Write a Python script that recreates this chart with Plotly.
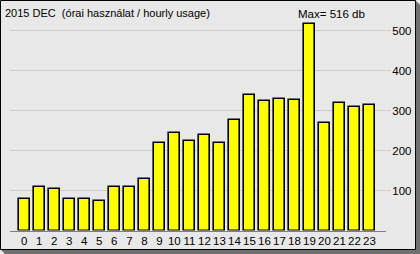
import plotly.graph_objects as go

hours = list(range(24))
hour_labels = [str(h) for h in hours]
usage = [78, 108, 105, 78, 78, 73, 108, 108, 128, 218, 243, 223,
         238, 218, 276, 340, 323, 330, 326, 516, 270, 318, 308, 313]
title_text = "2015 DEC  (órai használat / hourly usage)"
max_text = "Max= %d db" % max(usage)
y_ticks = [100, 200, 300, 400, 500]

W, H = 420, 254
def px(x):
    return x / W
def py(y):
    return (H - y) / H

FONT = "Liberation Sans"

fig = go.Figure()
fig.add_trace(go.Bar(
    x=hours, y=usage, width=0.74,
    marker=dict(color="#ffff00", line=dict(color="#000000", width=1.6)),
    hoverinfo="skip",
))

baseline = 230.5
top = 10
yr_top = (baseline - top) / 0.4

fig.update_layout(
    width=W, height=H,
    margin=dict(l=0, r=0, t=0, b=0),
    paper_bgcolor="#e8e8e8",
    plot_bgcolor="rgba(0,0,0,0)",
    showlegend=False,
    bargap=0,
    xaxis=dict(
        domain=[px(10), px(386)],
        range=[-0.95, 24.1],
        tickmode="array", tickvals=hours, ticktext=hour_labels,
        tickangle=0,
        showgrid=False, zeroline=False,
        showline=True, linecolor="#808080", linewidth=1,
        ticks="", tickfont=dict(family=FONT, size=11.5, color="#000000"),
        fixedrange=True,
    ),
    yaxis=dict(
        domain=[py(baseline), py(top)],
        range=[0, yr_top],
        side="right",
        tickmode="array", tickvals=y_ticks, ticktext=[str(v) for v in y_ticks],
        showgrid=True, gridcolor="#cccccc", gridwidth=1,
        zeroline=False, showline=False,
        ticks="outside", ticklen=3, tickcolor="#cccccc",
        tickfont=dict(family=FONT, size=11.5, color="#000000"),
        fixedrange=True,
    ),
    shapes=[
        dict(type="path", xref="paper", yref="paper",
             path="M %f,%f L %f,%f L %f,%f L %f,%f L %f,%f Z" % (
                 px(415), py(0), px(420), py(5), px(420), py(254),
                 px(5), py(254), px(0), py(249)),
             fillcolor="#707070", line=dict(width=0), layer="below"),
        dict(type="rect", xref="paper", yref="paper",
             x0=px(0.5), y0=py(249.5), x1=px(415.5), y1=py(0.5),
             fillcolor="#e8e8e8", line=dict(color="#000000", width=1), layer="below"),
    ],
    annotations=[
        dict(text=title_text, xref="paper", yref="paper",
             x=px(3), y=py(13), xanchor="left", yanchor="middle",
             showarrow=False, font=dict(family=FONT, size=11, color="#000000")),
        dict(text=max_text, xref="paper", yref="paper",
             x=px(331), y=py(14), xanchor="center", yanchor="middle",
             showarrow=False, font=dict(family=FONT, size=11.5, color="#000000")),
    ],
)

fig.write_html("out.html")
